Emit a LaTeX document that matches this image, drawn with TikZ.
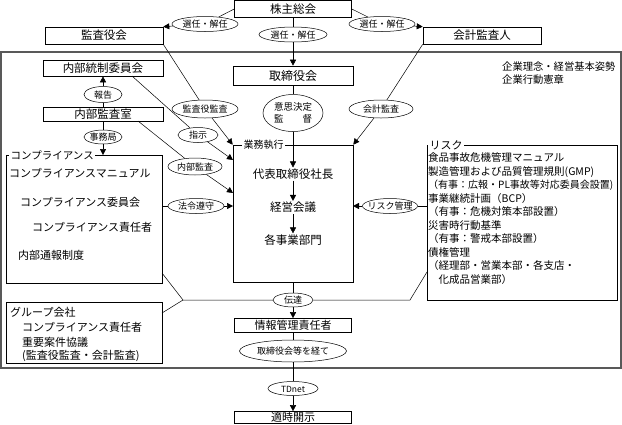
\documentclass[tikz,border=0pt]{standalone}
\usepackage{fontspec}
\setmainfont{Noto Sans CJK JP}
\usetikzlibrary{shapes.geometric,arrows.meta,calc}
\newcommand{\ovt}[1]{\makebox[0pt]{#1}}
\newcommand{\fs}[1]{\fontsize{#1}{#1}\selectfont}
\begin{document}
\begin{tikzpicture}[x=1pt,y=-1pt,
  box/.style={draw, fill=white, line width=0.6pt, inner sep=0pt, font=\fs{11.5}},
  oval/.style={ellipse, draw, fill=white, line width=0.5pt, inner sep=0pt,
    text height=0.83em, text depth=0.07em, font=\fs{9}},
  frame/.style={draw, line width=0.6pt, inner sep=0pt},
  tag/.style={fill=white, inner xsep=1.5pt, inner ysep=0.5pt, anchor=west},
  txt/.style={inner sep=0pt, anchor=west},
  link/.style={line width=0.5pt},
  arr/.style={line width=0.5pt, -{Triangle[length=6pt,width=6pt]}},
]
\useasboundingbox (0,0) rectangle (622,424);

% outer frame
\node[frame, draw=black!65, line width=1.1pt, minimum width=620pt, minimum height=316pt] (outer) at (311,210) {};

% top row
\node[box, minimum width=117pt, minimum height=17pt] (sh) at (293,9) {株主総会};
\node[box, minimum width=118pt, minimum height=17pt] (kansa) at (104,35.5) {監査役会};
\node[box, minimum width=118pt, minimum height=17pt] (kaikei) at (482,35.5) {会計監査人};
\node[oval, minimum width=66pt, minimum height=15pt] (e1) at (205,24) {\ovt{選任・解任}};
\node[oval, minimum width=68pt, minimum height=15pt] (e2) at (293,34.5) {\ovt{選任・解任}};
\node[oval, minimum width=66pt, minimum height=15pt] (e3) at (382,24) {\ovt{選任・解任}};

% centre column
\node[box, minimum width=120pt, minimum height=19pt, font=\fs{12}] (tori) at (293,75.5) {取締役会};
\node[ellipse, draw, fill=white, line width=0.5pt, inner sep=0pt, minimum width=60pt, minimum height=37pt,
  align=center, font=\fontsize{9.5}{12}\selectfont] (ishi) at (293,113) {意思決定\\監　　督};
\node[frame, minimum width=120pt, minimum height=137pt] (main) at (293,213.5) {};
\node[tag, font=\fs{10}] (gyomu) at (242,145) {業務執行};
\node[inner sep=1pt, font=\fs{11.5}] (daihyo) at (293,174) {代表取締役社長};
\node[inner sep=1pt, font=\fs{11.5}] (keiei) at (293,207.5) {経営会議};
\node[inner sep=1pt, font=\fs{11.5}] (kaku) at (293,240) {各事業部門};

% left column
\node[box, minimum width=120pt, minimum height=16pt] (naibu) at (103,68) {内部統制委員会};
\node[box, minimum width=120pt, minimum height=14pt] (shitsu) at (103,114) {内部監査室};
\node[oval, minimum width=38pt, minimum height=16pt] (hokoku) at (103,94.5) {\ovt{報告}};
\node[oval, minimum width=38pt, minimum height=14pt] (jimu) at (103,137) {\ovt{事務局}};
\node[frame, minimum width=156pt, minimum height=128pt] (comp) at (84,219) {};
\node[tag, font=\fs{10.5}] (compt) at (9,155) {コンプライアンス};
\node[txt, font=\fs{11}] (c1) at (9,173) {コンプライアンスマニュアル};
\node[txt, font=\fs{11}] (c2) at (20,202) {コンプライアンス委員会};
\node[txt, font=\fs{11}] (c3) at (32,227) {コンプライアンス責任者};
\node[txt, font=\fs{11}] (c4) at (18,255) {内部通報制度};

\node[oval, minimum width=66pt, minimum height=18pt] (kk) at (205,109) {\ovt{監査役監査}};
\node[oval, minimum width=40pt, minimum height=15pt] (shiji) at (198,135) {\ovt{指示}};
\node[oval, minimum width=54pt, minimum height=17pt] (nk) at (195,166.5) {\ovt{内部監査}};
\node[oval, minimum width=56pt, minimum height=15pt] (horei) at (196,206) {\ovt{法令遵守}};

% right column
\node[oval, minimum width=64pt, minimum height=18pt] (kka) at (381,109) {\ovt{会計監査}};
\node[txt, font=\fs{10.3}] (rinen) at (502,67) {企業理念・経営基本姿勢};
\node[txt, font=\fs{10.3}] (kodo) at (502,80) {企業行動憲章};
\node[frame, minimum width=190pt, minimum height=155pt] (risk) at (522,222.5) {};
\node[tag, font=\fs{11}] (riskt) at (428,145) {リスク};
\node[anchor=north west, inner sep=0pt, align=left, font=\fontsize{10.5}{13.5}\selectfont] (risktext) at (428,152.5)
  {食品事故危機管理マニュアル\\
   製造管理および品質管理規則(GMP)\\
   {\fontsize{10}{13.5}\selectfont（有事：広報・PL事故等対応委員会設置)}\\
   事業継続計画（BCP）\\
   （有事：危機対策本部設置）\\
   災害時行動基準\\
   （有事：警戒本部設置）\\
   債権管理\\
   （経理部・営業本部・各支店・\\
   \hspace*{1em}化成品営業部）};
\node[oval, minimum width=55pt, minimum height=15pt] (rk) at (390,206) {\ovt{リスク管理}};

% bottom
\node[oval, minimum width=40pt, minimum height=14pt] (den) at (293,300) {\ovt{伝達}};
\node[box, minimum width=117pt, minimum height=14pt, font=\fs{11}] (joho) at (293,325.5) {情報管理責任者};
\node[oval, minimum width=107pt, minimum height=22pt] (keite) at (293,351) {\ovt{取締役会等を経て}};
\node[oval, minimum width=50pt, minimum height=14pt, font=\fs{8.5}] (td) at (293,388.5) {\ovt{TDnet}};
\node[box, minimum width=117pt, minimum height=12pt, font=\fs{11}] (tekiji) at (293,417.5) {適時開示};

\node[frame, minimum width=156pt, minimum height=61pt] (grp) at (84,332.5) {};
\node[txt, font=\fs{11}] (g1) at (10,312) {グループ会社};
\node[txt, font=\fs{11}] (g2) at (22,327) {コンプライアンス責任者};
\node[txt, font=\fs{11}] (g3) at (22,342) {重要案件協議};
\node[txt, font=\fs{11}] (g4) at (22,355.5) {(監査役監査・会計監査)};

% free ends
\coordinate (naibuX) at (132,76);
\coordinate (shitsuX) at (138,121);
\coordinate (compN) at (103,155);
\coordinate (mainW1) at (233,160);
\coordinate (mainW2) at (233,193);
\coordinate (mainW3) at (233,206);
\coordinate (compE) at (162,206);
\coordinate (mainE) at (353,206);
\coordinate (riskW) at (427,206);
\coordinate (jL) at (183,300);
\coordinate (jR) at (410,300);
\coordinate (compX) at (162,273);
\coordinate (grpX) at (162,313);
\coordinate (riskX) at (427,272);

% connectors: top
\draw[link] (sh.west) -- (e1);
\draw[arr] (e1) -- (kansa.north east);
\draw[link] (sh.east) -- (e3);
\draw[arr] (e3) -- (kaikei.north west);
\draw[link] (sh) -- (e2);
\draw[arr] (e2) -- (tori);
\draw[link] (tori) -- (ishi);
\draw[arr] (ishi) -- (daihyo);
\draw[arr] (daihyo) -- (keiei);
\draw[arr] (keiei) -- (kaku);

% left
\draw[link] (shitsu) -- (hokoku);
\draw[arr] (hokoku) -- (naibu);
\draw[link] (shitsu) -- (jimu);
\draw[arr] (jimu) -- (compN);
\draw[link] (kansa.south east) -- (kk);
\draw[arr] (kk) -- (main.north west);
\draw[link] (naibuX) -- (shiji);
\draw[arr] (shiji) -- (mainW1);
\draw[link] (shitsuX) -- (nk);
\draw[arr] (nk) -- (mainW2);
\draw[link] (compE) -- (horei);
\draw[arr] (horei) -- (mainW3);

% right
\draw[link] (kaikei.south west) -- (kka);
\draw[arr] (kka) -- (main.north east);
\draw[link] (riskW) -- (rk);
\draw[arr] (rk) -- (mainE);

% bottom
\draw[link] (compX) -- (jL) -- (den) -- (jR) -- (riskX);
\draw[link] (grpX) -- (jL);
\draw[link] (main.south) -- (den);
\draw[arr] (den) -- (joho);
\draw[link] (joho) -- (keite);
\draw[link] (keite) -- (td);
\draw[arr] (td) -- (tekiji);
\end{tikzpicture}
\end{document}
